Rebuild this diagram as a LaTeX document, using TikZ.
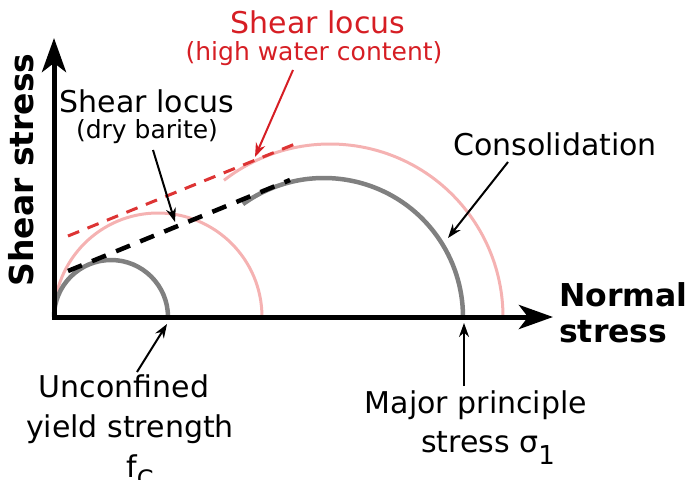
\documentclass[tikz,border=0pt]{standalone}
\usepackage{fontspec}
\setmainfont{DejaVu Sans}
\usetikzlibrary{arrows.meta}
\definecolor{txtred}{RGB}{214,30,36}
\definecolor{dashred}{RGB}{221,52,52}
\definecolor{pinkc}{RGB}{245,178,178}
\definecolor{grayc}{RGB}{128,128,128}
\tikzset{
  lbl/.style={anchor=base, inner sep=0pt, font=\fontsize{30}{36}\selectfont},
  sublbl/.style={anchor=base, inner sep=0pt, font=\fontsize{25}{30}\selectfont},
  axlbl/.style={anchor=base west, inner sep=0pt, font=\fontsize{31.5}{36}\selectfont\bfseries},
  pointer/.style={line width=2pt, -{Stealth[length=14pt,width=10pt]}},
  axisline/.style={line width=5pt, line join=miter, {Stealth[length=34pt,width=24pt,inset=9pt]}-{Stealth[length=34pt,width=24pt,inset=9pt]}},
  grayarc/.style={draw=grayc, line width=4.5pt},
  pinkarc/.style={draw=pinkc, line width=3pt},
  blackdash/.style={draw=black, line width=4.5pt, dash pattern=on 15pt off 11pt},
  reddash/.style={draw=dashred, line width=3pt, dash pattern=on 12pt off 9pt},
}
\begin{document}
\begin{tikzpicture}[x=1pt,y=-1pt]
\path[use as bounding box] (0,0) rectangle (693,479);

% circles
\path[pinkarc] (54,317) arc[start angle=-180, end angle=0, radius=104];
\path[pinkarc] (330,317) ++(-127.8:173) arc[start angle=-127.8, end angle=0, radius=173];
\path[grayarc] (54,317) arc[start angle=-180, end angle=0, radius=57];
\path[grayarc] (324,317) ++(-125.7:139) arc[start angle=-125.7, end angle=0, radius=139];

% shear loci
\coordinate (bd1) at (68,271);
\coordinate (bd2) at (290,180);
\coordinate (rd1) at (68,236);
\coordinate (rd2) at (295,144);
\path[blackdash] (bd1) -- (bd2);
\path[reddash] (rd1) -- (rd2);

% axes
\coordinate (ytip) at (54,38);
\coordinate (orig) at (54,317);
\coordinate (xtip) at (553,317);
\draw[axisline] (ytip) -- (orig) -- (xtip);

% labels
\node[axlbl, anchor=base, rotate=90, font=\fontsize{33}{36}\selectfont\bfseries] (ylab) at (33,170) {Shear stress};
\node[axlbl] (xlab1) at (559,306) {Normal};
\node[axlbl] (xlab2) at (559,342) {stress};

\node[lbl, text=txtred] (rl1) at (318,33) {Shear locus};
\node[sublbl, text=txtred] (rl2) at (314,60) {(high water content)};
\node[lbl] (bl1) at (147,112) {Shear locus};
\node[sublbl] (bl2) at (147,138) {(dry barite)};
\node[lbl] (cons) at (555,155) {Consolidation};
\node[lbl] (uc1) at (124,397) {Unconfined};
\node[lbl] (uc2) at (130,437) {yield strength};
\node[lbl] (uc3) at (140,477) {f\raisebox{-10pt}{\fontsize{24}{24}\selectfont C}};
\node[lbl] (mp1) at (476,413) {Major principle};
\node[lbl] (mp2) at (488,452) {stress σ\raisebox{-12pt}{\fontsize{26}{26}\selectfont 1}};

% pointers
\coordinate (rs) at (293,70);
\coordinate (rt) at (255,157);
\coordinate (bs) at (153,150);
\coordinate (bt) at (175,222);
\coordinate (cs) at (508,162);
\coordinate (ct) at (448,238);
\coordinate (us) at (137,372);
\coordinate (ut) at (167,324);
\coordinate (ms) at (464,386);
\coordinate (mt) at (464,323);
\draw[pointer, draw=txtred, color=txtred] (rs) -- (rt);
\draw[pointer] (bs) -- (bt);
\draw[pointer] (cs) -- (ct);
\draw[pointer] (us) -- (ut);
\draw[pointer] (ms) -- (mt);
\end{tikzpicture}
\end{document}
